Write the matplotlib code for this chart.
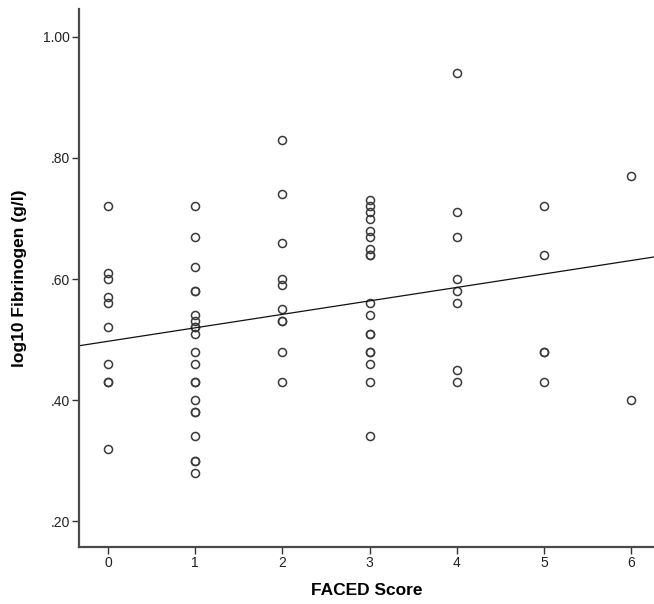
import numpy as np
import matplotlib
matplotlib.use("Agg")
import matplotlib.pyplot as plt
from matplotlib.ticker import FuncFormatter

plt.rcParams['font.family'] = ['Liberation Sans', 'DejaVu Sans']

# FACED score groups and log10 fibrinogen values
faced_0 = [0.72, 0.61, 0.60, 0.57, 0.56, 0.52, 0.46, 0.43, 0.43, 0.32]
faced_1 = [0.72, 0.67, 0.62, 0.58, 0.58, 0.54, 0.53, 0.52, 0.52, 0.51, 0.48,
           0.46, 0.43, 0.43, 0.40, 0.38, 0.38, 0.34, 0.30, 0.30, 0.28]
faced_2 = [0.83, 0.74, 0.66, 0.60, 0.59, 0.55, 0.53, 0.53, 0.48, 0.43]
faced_3 = [0.73, 0.72, 0.71, 0.70, 0.68, 0.67, 0.65, 0.64, 0.64, 0.56, 0.54,
           0.51, 0.51, 0.48, 0.48, 0.46, 0.43, 0.34]
faced_4 = [0.94, 0.71, 0.67, 0.60, 0.58, 0.56, 0.45, 0.43]
faced_5 = [0.72, 0.64, 0.48, 0.48, 0.43]
faced_6 = [0.77, 0.40]

groups = [faced_0, faced_1, faced_2, faced_3, faced_4, faced_5, faced_6]
x_ticks = [0, 1, 2, 3, 4, 5, 6]
y_ticks = [0.20, 0.40, 0.60, 0.80, 1.00]

x = np.concatenate([[score] * len(vals) for score, vals in zip(x_ticks, groups)])
y = np.concatenate(groups)

fig = plt.figure(figsize=(6.54, 6.04), dpi=100)
ax = fig.add_axes([0.121, 0.094, 0.879, 0.891])

ax.plot(x, y, linestyle='none', marker='o', markersize=5.8,
        markerfacecolor='none', markeredgecolor='#3a3a3a', markeredgewidth=1.1)

xmin, xmax = -0.33, 6.26
slope, intercept = np.polyfit(x, y, 1)
xl = np.array([xmin, xmax])
ax.plot(xl, intercept + slope * xl, color='#111111', linewidth=0.9)

ax.set_xlim(xmin, xmax)
ax.set_ylim(0.157, 1.046)
ax.set_xticks(x_ticks)
ax.set_yticks(y_ticks)
ax.yaxis.set_major_formatter(FuncFormatter(
    lambda v, p: f"{v:.2f}" if v >= 1 else f"{v:.2f}"[1:]))

for side in ['top', 'right']:
    ax.spines[side].set_visible(False)
for side in ['left', 'bottom']:
    ax.spines[side].set_color('#4a4a4a')
    ax.spines[side].set_linewidth(1.6)

ax.tick_params(axis='both', direction='out', length=5, width=1.0,
               color='#333333', labelsize=10, labelcolor='#222222', pad=1.5)

ax.set_xlabel('FACED Score', fontsize=12.5, fontweight='bold', labelpad=9)
ax.set_ylabel('log10 Fibrinogen (g/l)', fontsize=12.5, fontweight='bold', labelpad=12)

fig.savefig('out.png', dpi=100)
